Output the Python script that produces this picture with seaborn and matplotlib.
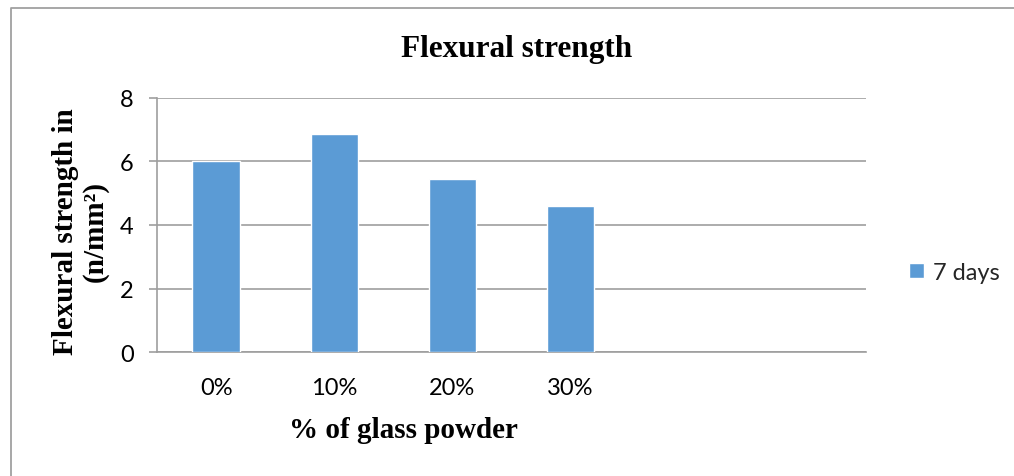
import matplotlib
matplotlib.use("Agg")
import matplotlib.pyplot as plt
import seaborn as sns
import pandas as pd
from matplotlib.lines import Line2D

# Flexural strength (N/mm²) at 7 days for each glass-powder replacement level
categories = ["0%", "10%", "20%", "30%"]
strength_7d = [6.0, 6.85, 5.45, 4.6]
series_name = "7 days"
y_ticks = [0, 2, 4, 6, 8]

BAR_COLOR = "#5B9BD5"
GRID_COLOR = "#9E9E9E"
SERIF = ["Liberation Serif", "DejaVu Serif"]
SANS = ["Lato", "DejaVu Sans"]

sns.set_theme(style="white")
plt.rcParams["font.family"] = SANS

W, H = 1014, 477
fig = plt.figure(figsize=(W / 100, H / 100), dpi=100)
fig.patch.set_facecolor("white")

# plot area in pixel coordinates
left, right, top, bottom = 157, 866, 98.7, 353.3
ax = fig.add_axes([left / W, 1 - bottom / H, (right - left) / W, (bottom - top) / H])

df = pd.DataFrame({"level": categories, "strength": strength_7d})
sns.barplot(data=df, x="level", y="strength", order=categories, color=BAR_COLOR,
            saturation=1, width=0.4, label=series_name, ax=ax, zorder=3)

# six category slots, the last two left empty
ax.set_xlim(-0.5, 5.5)
ax.set_ylim(0, 8)
ax.set_yticks(y_ticks)
ax.set_yticklabels([str(t) for t in y_ticks])
ax.yaxis.grid(True, color=GRID_COLOR, linewidth=1.2, zorder=0)
ax.xaxis.grid(False)
ax.set_xlabel("")
ax.set_ylabel("")

for side in ("top", "right"):
    ax.spines[side].set_visible(False)
for side in ("left", "bottom"):
    ax.spines[side].set_color(GRID_COLOR)
    ax.spines[side].set_linewidth(1.2)

ax.tick_params(axis="y", which="major", left=True, length=5.8, width=1.2,
               color=GRID_COLOR, pad=11, labelsize=17, labelcolor="#000000")
ax.tick_params(axis="x", which="major", bottom=False, pad=12,
               labelsize=17, labelcolor="#000000")
for lbl in ax.get_xticklabels() + ax.get_yticklabels():
    lbl.set_family(SANS)

# legend to the right of the plot area
ax.legend(loc="center left", bbox_to_anchor=(909 / W, 1 - 273 / H),
          bbox_transform=fig.transFigure, frameon=False, borderpad=0,
          borderaxespad=0, handlelength=0.62, handleheight=0.62,
          handletextpad=0.4, prop={"family": SANS, "size": 17})

# titles and axis labels
fig.text(517 / W, 1 - 49 / H, "Flexural strength", ha="center", va="center",
         family=SERIF, fontweight="bold", fontsize=22.5, color="#000000")
fig.text(403 / W, 1 - 438 / H, "% of glass powder", ha="center", va="baseline",
         family=SERIF, fontweight="bold", fontsize=21, color="#000000")
fig.text(80 / W, 1 - 232 / H, "Flexural strength in\n(n/mm²)", ha="center",
         va="center", rotation=90, multialignment="center", linespacing=1.12,
         family=SERIF, fontweight="bold", fontsize=21, color="#000000")

# chart-area frame
fig.add_artist(Line2D([10.5 / W, 10.5 / W, 1.0], [0.0, 1 - 9 / H, 1 - 9 / H],
                      transform=fig.transFigure, color="#A0A0A0", linewidth=1.3))

fig.savefig("out.png", dpi=100, facecolor="white")
